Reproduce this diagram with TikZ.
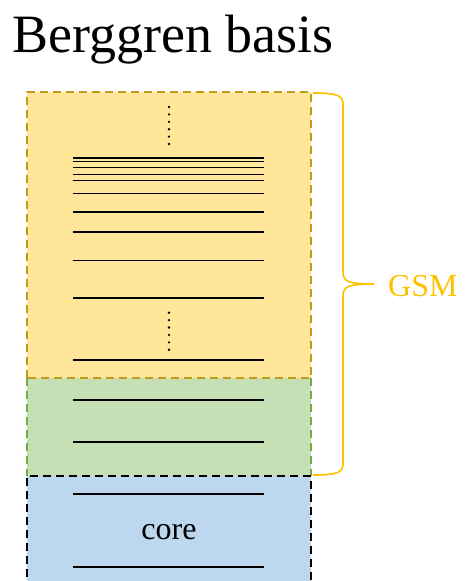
\documentclass[tikz,border=0pt]{standalone}
\usepackage{fontspec}
\setmainfont{Liberation Serif}
\usepackage{xcolor}
\definecolor{gsmfill}{HTML}{FFE699}
\definecolor{gsmline}{HTML}{C49A1C}
\definecolor{valfill}{HTML}{C5E0B4}
\definecolor{valline}{HTML}{70AD47}
\definecolor{corefill}{HTML}{BDD7EE}
\definecolor{bracecol}{HTML}{FFC000}
\tikzset{
  region/.style={line width=1.4pt, dash pattern=on 8pt off 5pt},
  level/.style={line width=1.5pt, black},
  vdot/.style={fill=black, inner sep=0pt, minimum size=2.6pt, circle},
}
\begin{document}
\begin{tikzpicture}[x=1pt,y=-1pt]
  \useasboundingbox (0,0) rectangle (464,581);
  \node[anchor=base west, inner sep=0pt, font=\fontsize{54}{60}\selectfont] (title) at (12,52) {Berggren basis};
  % regions
  \coordinate (top) at (27,92);
  \coordinate (gsmcut) at (311,378);
  \coordinate (valcut) at (27,476);
  \fill[gsmfill] (top) rectangle (gsmcut);
  \fill[valfill] (27,378) rectangle (311,476);
  \fill[corefill] (valcut) rectangle (311,590);
  \draw[region, gsmline] (27,378) -- (top) -- (311,92) -- (gsmcut) -- cycle;
  \draw[region, valline] (27,378) -- (valcut) (311,378) -- (311,476);
  \draw[region, black] (27,590) -- (valcut) -- (311,476) -- (311,590);
  % levels
  \foreach \y in {158,161.5,167.5,174.5,180.5,193.5,212,232,260.5,298,360, 400,442, 494,567}
    \draw[level] (73,\y) -- (264,\y);
  \foreach \y in {107,114.4,121.8,129.2,136.6,144}
    \node[vdot] at (169,\y) {};
  \foreach \y in {312.7,320.1,327.5,334.9,342.3,349.7}
    \node[vdot] at (169,\y) {};
  \node[font=\fontsize{32}{36}\selectfont] (core) at (169,532) {core};
  % brace
  \coordinate (bt) at (313,93);
  \coordinate (bb) at (313,475);
  \coordinate (tip) at (374,284);
  \draw[bracecol, line width=1.6pt]
    (bt) .. controls (338,93) and (343,96) .. (343,104) -- (343,272)
    .. controls (343,281) and (347,284) .. (tip)
    (bb) .. controls (338,475) and (343,472) .. (343,464) -- (343,296)
    .. controls (343,287) and (347,284) .. (tip);
  \node[anchor=west, inner sep=0pt, text=bracecol, font=\fontsize{32}{36}\selectfont] (gsm) at (388,286) {GSM};
\end{tikzpicture}
\end{document}
